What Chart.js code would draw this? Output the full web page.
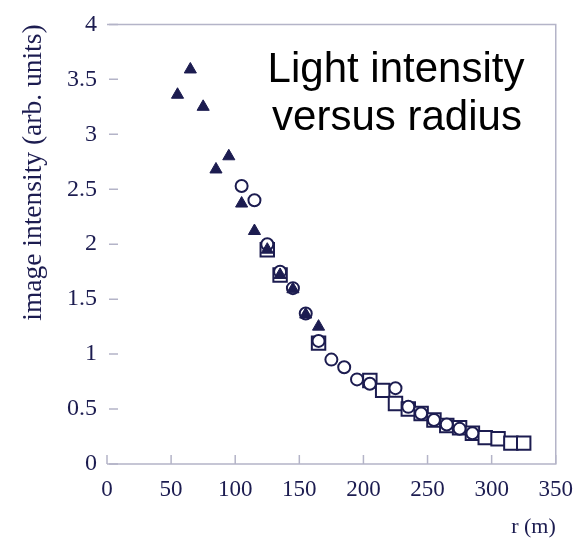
<!DOCTYPE html>
<html>
<head>
<meta charset="utf-8">
<script src="https://cdn.jsdelivr.net/npm/chart.js@4"></script>
<style>
  html, body { margin: 0; padding: 0; background: #fff; }
  #wrap { width: 585px; height: 540px; }
</style>
</head>
<body>
<div id="wrap"><canvas id="chart" width="585" height="540"></canvas></div>
<script>
const ink = '#1c1c50';
const frameColor = '#b4b4c8';

// filled triangles
const radiusTri = [55, 65, 75, 85, 95, 105, 115, 125, 135, 145, 155, 165];
const intensityTri = [3.36, 3.59, 3.25, 2.68, 2.80, 2.37, 2.12, 1.95, 1.72, 1.59, 1.36, 1.25];

// open circles
const radiusCirc = [105, 115, 125, 135, 145, 155, 165, 175, 185, 195, 205, 225, 235, 245, 255, 265, 275, 285];
const intensityCirc = [2.53, 2.40, 2.00, 1.75, 1.60, 1.37, 1.12, 0.95, 0.88, 0.77, 0.73, 0.69, 0.52, 0.46, 0.40, 0.36, 0.32, 0.28];

// open squares
const radiusSq = [125, 135, 165, 205, 215, 225, 235, 245, 255, 265, 275, 285, 295, 305, 315, 325];
const intensitySq = [1.95, 1.72, 1.10, 0.76, 0.67, 0.55, 0.50, 0.46, 0.40, 0.35, 0.33, 0.28, 0.24, 0.23, 0.19, 0.19];

const xTicks = [0, 50, 100, 150, 200, 250, 300, 350];
const yTicks = [0, 0.5, 1, 1.5, 2, 2.5, 3, 3.5, 4];

const titleLines = ['Light intensity', 'versus radius'];

function toPoints(xs, ys) {
    return xs.map((x, i) => ({ x: x, y: ys[i] }));
}

// box on top/right/bottom plus short inward ticks
const framePlugin = {
    id: 'frame',
    afterDraw(chart) {
        const { ctx, chartArea: a, scales } = chart;
        ctx.save();
        ctx.strokeStyle = frameColor;
        ctx.lineWidth = 1.5;
        ctx.beginPath();
        ctx.moveTo(a.left, a.top);
        ctx.lineTo(a.right, a.top);
        ctx.lineTo(a.right, a.bottom);
        ctx.lineTo(a.left, a.bottom);
        ctx.stroke();

        ctx.beginPath();
        for (const v of xTicks) {
            const px = scales.x.getPixelForValue(v);
            ctx.moveTo(px, a.bottom);
            ctx.lineTo(px, a.bottom - 9);
        }
        for (const v of yTicks) {
            const py = scales.y.getPixelForValue(v);
            ctx.moveTo(a.left + 2, py);
            ctx.lineTo(a.left + 11, py);
        }
        ctx.stroke();

        ctx.fillStyle = '#000';
        ctx.font = '42px "Liberation Sans", Arial, sans-serif';
        ctx.textAlign = 'center';
        ctx.textBaseline = 'alphabetic';
        ctx.fillText(titleLines[0], 396, 82);
        ctx.fillText(titleLines[1], 397, 130);
        ctx.restore();
    }
};

const serif = '"Liberation Serif", "DejaVu Serif", serif';

new Chart(document.getElementById('chart'), {
    type: 'scatter',
    data: {
        datasets: [
            {
                label: 'triangles',
                data: toPoints(radiusTri, intensityTri),
                pointStyle: 'triangle',
                pointRadius: 7,
                backgroundColor: ink,
                borderColor: ink,
                borderWidth: 1
            },
            {
                label: 'circles',
                data: toPoints(radiusCirc, intensityCirc),
                pointStyle: 'circle',
                pointRadius: 6,
                backgroundColor: '#fff',
                borderColor: ink,
                borderWidth: 2
            },
            {
                label: 'squares',
                data: toPoints(radiusSq, intensitySq),
                pointStyle: 'rect',
                pointRadius: 9.5,
                backgroundColor: '#fff',
                borderColor: ink,
                borderWidth: 2
            }
        ]
    },
    options: {
        responsive: false,
        animation: false,
        layout: { padding: { top: 19, right: 28, left: 0, bottom: 0 } },
        plugins: {
            legend: { display: false },
            tooltip: { enabled: false }
        },
        scales: {
            x: {
                type: 'linear',
                min: 0,
                max: 350,
                afterFit: s => { s.height = 76; },
                afterBuildTicks: s => { s.ticks = xTicks.map(v => ({ value: v })); },
                grid: { display: false, drawTicks: false },
                border: { display: false },
                ticks: {
                    color: ink,
                    padding: 12,
                    maxRotation: 0,
                    font: { family: serif, size: 23 }
                },
                title: {
                    display: true,
                    text: 'r (m)',
                    align: 'end',
                    color: ink,
                    padding: 0,
                    font: { family: serif, size: 22 }
                }
            },
            y: {
                type: 'linear',
                min: 0,
                max: 4,
                afterFit: s => { s.width = 107; },
                afterBuildTicks: s => { s.ticks = yTicks.map(v => ({ value: v })); },
                grid: { display: false, drawTicks: false },
                border: { display: false },
                ticks: {
                    color: ink,
                    padding: 10,
                    font: { family: serif, size: 24 },
                    callback: v => String(v)
                },
                title: {
                    display: true,
                    text: 'image intensity (arb. units)',
                    align: 'end',
                    color: ink,
                    padding: { top: 17, bottom: 0 },
                    font: { family: serif, size: 27.5 }
                }
            }
        }
    },
    plugins: [framePlugin]
});
</script>
</body>
</html>
